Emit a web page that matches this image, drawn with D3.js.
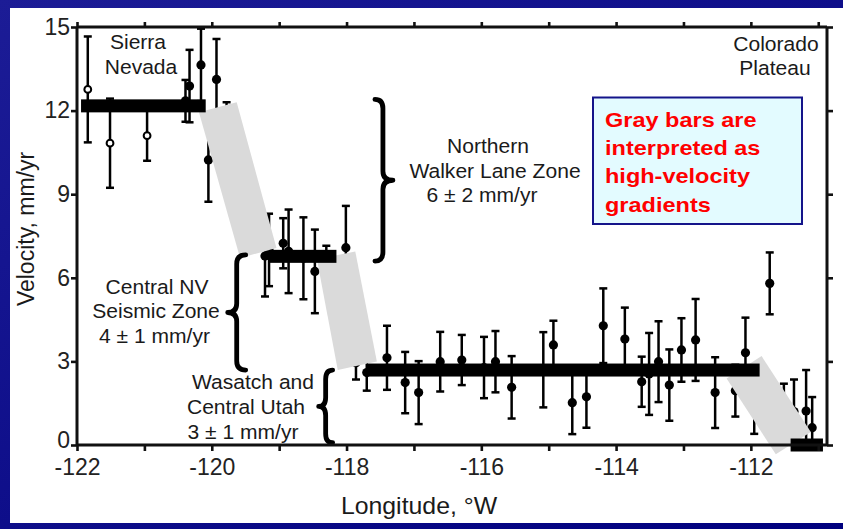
<!DOCTYPE html>
<html>
<head>
	<meta charset='utf-8'>
	<script src="https://cdnjs.cloudflare.com/ajax/libs/d3/7.8.5/d3.min.js" charset="utf-8"></script>
	<style>
	body {
		margin:0;
		background:#fff;
		font-family:'Liberation Sans', Arial, sans-serif;
	}
	svg { display:block; }
	</style>
</head>
<body>
<script>

// ---- data ----
// open circles (Sierra Nevada sites)
var openLon = [-121.84, -121.51, -120.96];
var openVel = [12.76, 10.83, 11.10];
var openErr = [1.9, 1.6, 0.9];

// filled circles
var siteLon = [-120.39, -120.33, -120.16, -120.05, -119.93, -119.78,
	-119.21, -119.15, -118.94, -118.86, -118.64, -118.47, -118.30, -118.01,
	-117.86, -117.70, -117.40, -117.13, -116.93, -116.61, -116.29, -115.96, -115.79, -115.55,
	-115.08, -114.93, -114.65, -114.44, -114.19, -113.87, -113.62, -113.51, -113.37, -113.21,
	-113.03, -112.82, -112.53, -112.23, -112.08, -111.95, -111.72, -111.51, -111.36, -111.18, -111.09];
var siteVel = [12.35, 12.88, 13.64, 10.23, 13.12, 11.0,
	6.78, 7.0, 7.24, 6.95, 6.70, 6.23, 6.8, 7.08,
	2.95, 2.6, 3.13, 2.24, 1.88, 2.99, 3.05, 2.78, 2.99, 2.07,
	2.7, 3.59, 1.52, 1.73, 4.28, 3.80, 2.27, 2.55, 2.99, 2.15,
	3.41, 3.77, 1.88, 1.95, 3.31, 1.4, 5.80, 1.2, 1.2, 1.22, 0.62];
var siteErr = [0.75, 1.3, 1.3, 1.5, 1.45, 1.3,
	1.45, 1.3, 0.9, 1.5, 1.47, 1.5, 0.35, 1.5,
	0.6, 0.65, 1.15, 1.1, 1.13, 1.07, 0.9, 1.1, 1.1, 1.12,
	1.35, 0.87, 1.13, 1.11, 1.34, 1.13, 0.9, 1.47, 1.45, 1.28,
	1.14, 1.47, 1.27, 0.93, 1.26, 1.0, 1.11, 1.0, 1.15, 1.47, 1.1];

// black bars: block velocities
var blockStart = [-121.94, -119.14, -117.70, -111.41];
var blockEnd   = [-120.09, -118.15, -111.87, -110.93];
var blockVel   = [12.17, 6.77, 2.69, 0.0];

// gray bars: high-velocity gradients (corner lon / vel)
var gradLon = [[-120.19, -119.63, -119.04, -119.58],
	[-118.44, -117.87, -117.55, -118.13],
	[-112.36, -111.84, -111.11, -111.63]];
var gradVel = [[11.94, 12.30, 7.07, 6.71],
	[6.67, 6.94, 3.00, 2.69],
	[2.39, 3.19, 0.47, -0.33]];

// braces: body longitude, top / bottom velocity
var braceLon = [-117.46, -119.63, -118.31];
var braceTop = [12.4, 6.82, 2.69];
var braceBot = [6.6, 2.69, 0.08];

var xTicks = d3.range(-122, -110.5, 1);
var xLabeled = [-122, -120, -118, -116, -114, -112];
var yTicks = [0, 3, 6, 9, 12, 15];

var sierraLabel = ['Sierra', 'Nevada'];
var coloradoLabel = ['Colorado', 'Plateau'];
var walkerLabel = ['Northern', 'Walker Lane Zone', '6 \u00b1 2 mm/yr'];
var cnvLabel = ['Central NV', 'Seismic Zone', '4 \u00b1 1 mm/yr'];
var utahLabel = ['Wasatch and', 'Central Utah', '3 \u00b1 1 mm/yr'];
var noteLines = ['Gray bars are', 'interpreted as', 'high-velocity', 'gradients'];

// ---- layout ----
var width = 843, height = 529;
var margin = {top: 27, right: 16, bottom: 84, left: 77};

var svg = d3.select('body').append('svg').attr('width', width).attr('height', height);

var defs = svg.append('defs');
var grad = defs.append('linearGradient').attr('id', 'bg').attr('x1', 0).attr('y1', 0).attr('x2', 1).attr('y2', 1);
grad.append('stop').attr('offset', '0%').attr('stop-color', '#1c1c96');
grad.append('stop').attr('offset', '100%').attr('stop-color', '#00007e');

svg.append('rect').attr('width', width).attr('height', height).attr('fill', 'url(#bg)');
svg.append('rect').attr('x', 10).attr('y', 8).attr('width', width - 10).attr('height', 515).attr('fill', '#fff');

var x = d3.scaleLinear().domain([-122, -110.87]).range([margin.left, width - margin.right]);
var y = d3.scaleLinear().domain([0, 15]).range([height - margin.bottom, margin.top]);

var chart = svg.append('g');

// error bars and sites
function drawSites (lon, vel, err, open) {
	var g = chart.append('g');
	lon.forEach(function (d, i) {
		var lo = y(Math.max(0, vel[i] - err[i])), hi = y(Math.min(15, vel[i] + err[i])), cx = x(d);
		g.append('line').attr('x1', cx).attr('x2', cx).attr('y1', lo).attr('y2', hi)
			.attr('stroke', '#000').attr('stroke-width', 2.5);
		[lo, hi].forEach(function (yy) {
			if (yy <= y(15) + 0.5 || yy >= y(0) - 0.5) return;
			g.append('line').attr('x1', cx - 4).attr('x2', cx + 4).attr('y1', yy).attr('y2', yy)
				.attr('stroke', '#000').attr('stroke-width', 2.5);
		});
		g.append('circle').attr('cx', cx).attr('cy', y(vel[i]))
			.attr('r', open ? 3.4 : 4.6)
			.attr('fill', open ? '#fff' : '#000')
			.attr('stroke', '#000').attr('stroke-width', open ? 2 : 0);
	});
}
drawSites(siteLon, siteVel, siteErr, false);
drawSites(openLon, openVel, openErr, true);

// gray gradient bars
chart.selectAll('polygon.grad').data(gradLon).enter().append('polygon')
	.attr('class', 'grad')
	.attr('points', function (d, i) {
		return d.map(function (lon, j) { return x(lon) + ',' + y(gradVel[i][j]); }).join(' ');
	})
	.attr('fill', '#dadada');

// black block bars
chart.selectAll('rect.block').data(blockVel).enter().append('rect')
	.attr('class', 'block')
	.attr('x', function (d, i) { return x(blockStart[i]); })
	.attr('width', function (d, i) { return x(blockEnd[i]) - x(blockStart[i]); })
	.attr('y', function (d) { return y(d) - 6.5; })
	.attr('height', 13)
	.attr('fill', '#000');

// braces
var braceDir = [1, -1, -1], braceTip = [10, 9, 7], braceEnd = [8, 9, 7];
function bracePath (bx, y0, y1, dir, tip, end) {
	var ym = (y0 + y1) / 2, r = Math.min(9, (y1 - y0) / 6);
	return 'M' + (bx - dir * end) + ',' + y0 +
		'Q' + bx + ',' + y0 + ' ' + bx + ',' + (y0 + r) +
		'L' + bx + ',' + (ym - r) +
		'Q' + bx + ',' + ym + ' ' + (bx + dir * tip) + ',' + ym +
		'Q' + bx + ',' + ym + ' ' + bx + ',' + (ym + r) +
		'L' + bx + ',' + (y1 - r) +
		'Q' + bx + ',' + y1 + ' ' + (bx - dir * end) + ',' + y1;
}
braceLon.forEach(function (d, i) {
	chart.append('path')
		.attr('d', bracePath(x(d), y(braceTop[i]), y(braceBot[i]), braceDir[i], braceTip[i], braceEnd[i]))
		.attr('fill', 'none').attr('stroke', '#000').attr('stroke-width', 4.8)
		.attr('stroke-linecap', 'round').attr('stroke-linejoin', 'round');
});

// axes
var axisG = svg.append('g').attr('class', 'axes');
var axBottom = axisG.append('g').attr('transform', 'translate(0,' + y(0) + ')')
	.call(d3.axisBottom(x).tickValues(xTicks).tickSize(6).tickPadding(8)
		.tickFormat(function (d) { return xLabeled.indexOf(d) >= 0 ? String(d) : ''; }));
var axTop = axisG.append('g').attr('transform', 'translate(0,' + y(15) + ')')
	.call(d3.axisTop(x).tickValues(xTicks).tickSize(5).tickFormat(''));
var axLeft = axisG.append('g').attr('transform', 'translate(' + x(-122) + ',0)')
	.call(d3.axisLeft(y).tickValues(yTicks).tickSize(6).tickPadding(1).tickFormat(d3.format('d')));
var axRight = axisG.append('g').attr('transform', 'translate(' + x(-110.87) + ',0)')
	.call(d3.axisRight(y).tickValues(yTicks).tickSize(6).tickFormat(''));

axisG.selectAll('.domain').attr('stroke', '#111').attr('stroke-width', 3);
axisG.selectAll('.tick line').attr('stroke', '#111').attr('stroke-width', 2.6);
axBottom.select('.domain').attr('d', 'M' + x(-122) + ',0H' + x(-110.87));
axTop.select('.domain').attr('d', 'M' + x(-122) + ',0H' + x(-110.87));
axLeft.select('.domain').attr('d', 'M0,' + y(0) + 'V' + y(15));
axRight.select('.domain').attr('d', 'M0,' + y(0) + 'V' + y(15));
axisG.selectAll('.tick text').attr('font-family', "'Liberation Sans', Arial, sans-serif")
	.attr('font-size', 23).attr('fill', '#222');
// lift the "0" a little so it clears "-122"
axLeft.selectAll('.tick text').filter(function (d) { return d === 0; }).attr('dy', '0.1em');

// text helper with a slight horizontal stretch like the slide
function label (lines, xs, y0, step, size, sx, anchor, opts) {
	lines.forEach(function (t, i) {
		var g = svg.append('g').attr('transform', 'translate(' + xs[i] + ',' + (y0 + i * step) + ') scale(' + sx + ',1)');
		g.append('text').attr('text-anchor', anchor).attr('font-size', size)
			.attr('font-weight', opts && opts.bold ? 'bold' : 'normal')
			.attr('fill', opts && opts.color ? opts.color : '#1a1a1a')
			.text(t);
	});
}

label(sierraLabel, [138, 141], 49, 24.5, 19.5, 1.08, 'middle');
label(coloradoLabel, [776, 775], 50.5, 24.5, 19.5, 1.08, 'middle');
label(walkerLabel, [488, 495, 482], 153, 24.5, 19.5, 1.08, 'middle');
label(cnvLabel, [157, 156, 154.5], 293.5, 24.5, 19.5, 1.08, 'middle');
label(utahLabel, [253, 246, 243], 388.5, 25.3, 19.5, 1.08, 'middle');

// axis titles
label(['Longitude, \u00b0W'], [419], 514, 0, 23, 1.08, 'middle');
svg.append('text').attr('transform', 'translate(34,229) rotate(-90)')
	.attr('text-anchor', 'middle').attr('font-size', 23).attr('fill', '#1a1a1a')
	.text('Velocity, mm/yr');

// note box
svg.append('rect').attr('x', 593).attr('y', 97.5).attr('width', 209).attr('height', 126.5)
	.attr('fill', '#e3fbff').attr('stroke', '#14148a').attr('stroke-width', 2);
label(noteLines, [605, 605, 605, 605], 126.5, 28.4, 21, 1.12, 'start', {bold: true, color: '#ff0000'});

</script>
</body>
</html>
